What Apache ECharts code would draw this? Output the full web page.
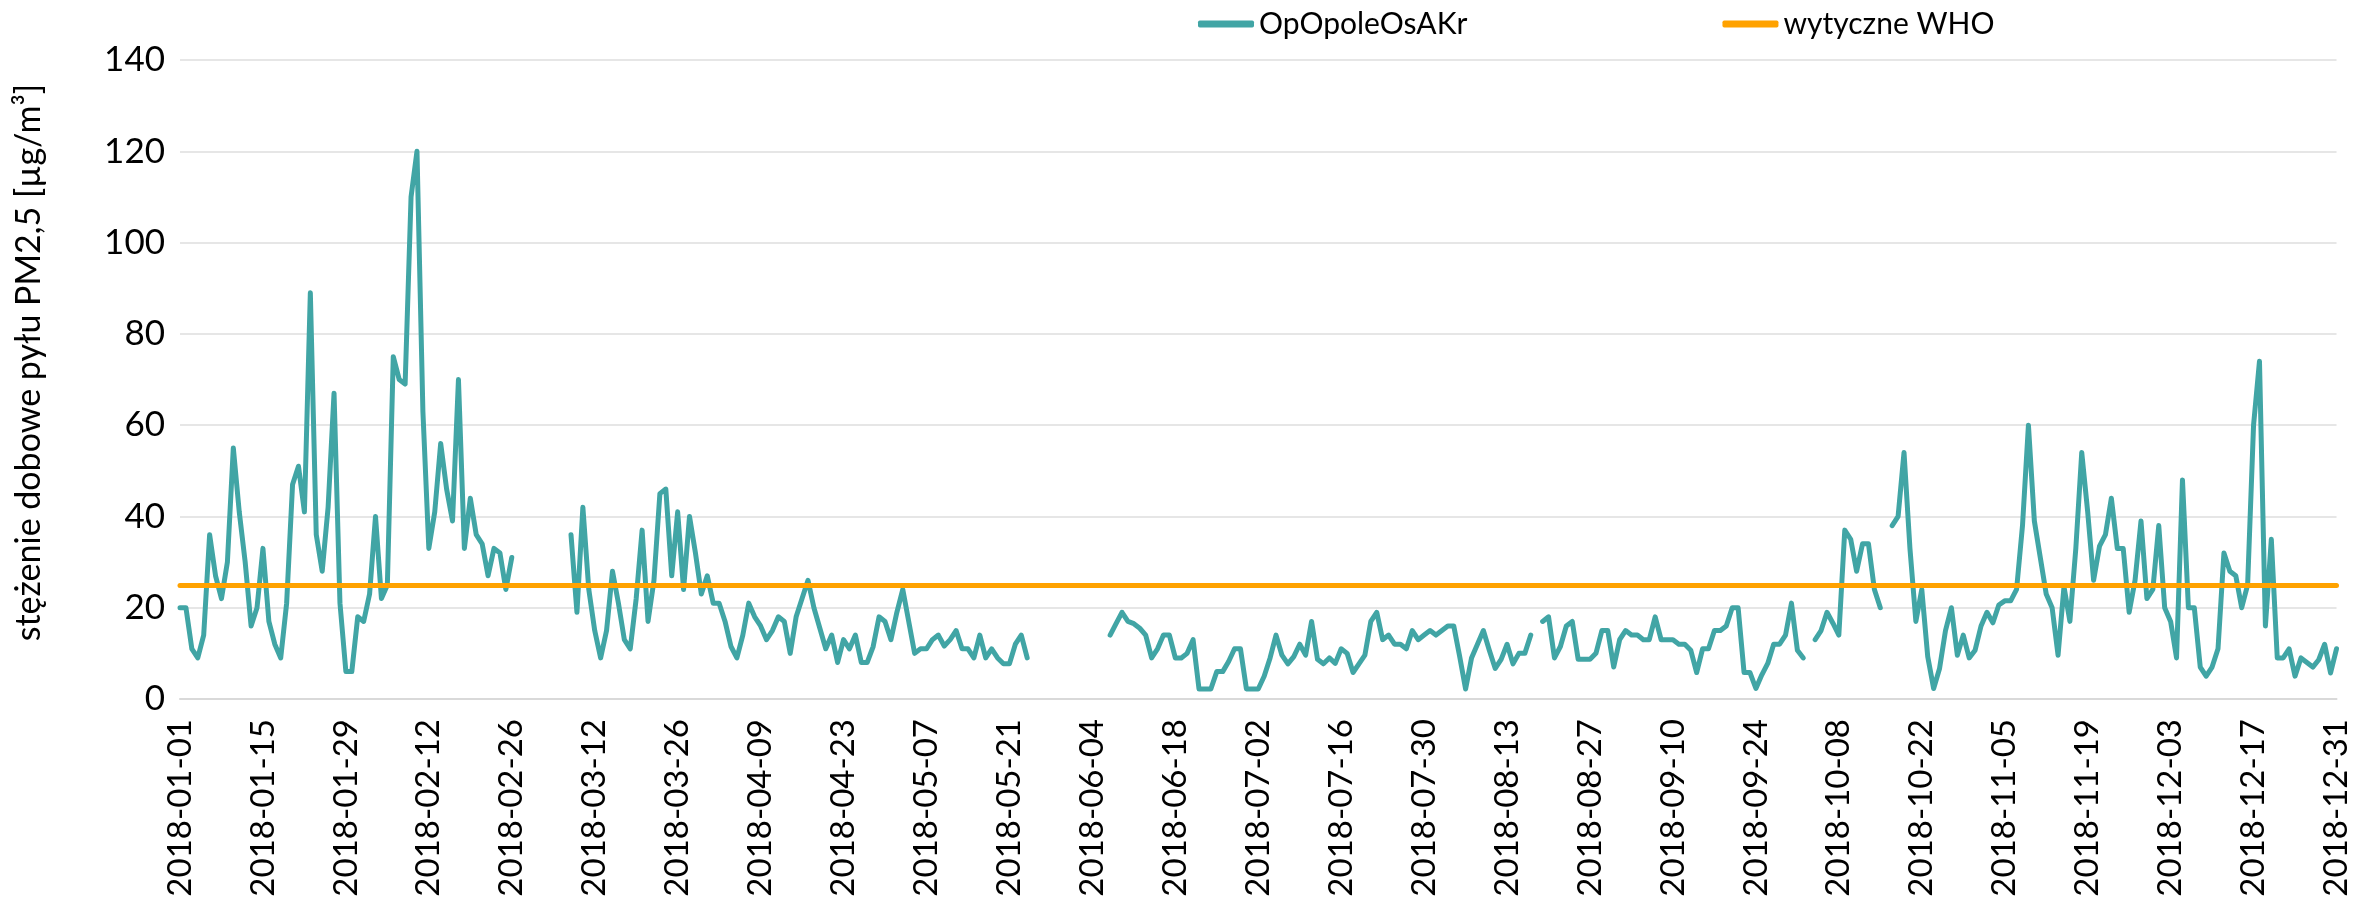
<!DOCTYPE html>
<html>
<head>
<meta charset="utf-8">
<script src="https://cdn.jsdelivr.net/npm/echarts@6/dist/echarts.min.js"></script>
<style>
  html, body {margin: 0; padding: 0; background: #fff;}
  #chart {width: 2353px; height: 900px;}
</style>
</head>
<body>
<div id="chart"></div>
<script>
// dzienne stężenia PM2,5, 2018-01-01 .. 2018-12-31 (null = brak pomiaru)
const pm25 = [
  20, 20, 11, 9, 14, 36, 27, 22, 30, 55,
  41, 30, 16, 20, 33, 17, 12, 9, 21, 47,
  51, 41, 89, 36, 28, 42, 67, 21, 6, 6,
  18, 17, 23, 40, 22, 25, 75, 70, 69, 110,
  120, 63, 33, 41, 56, 46, 39, 70, 33, 44,
  36, 34, 27, 33, 32, 24, 31, null, null, null,
  null, null, null, null, null, null, 36, 19, 42, 24,
  15, 9, 15, 28, 21, 13, 11, 22, 37, 17,
  26, 45, 46, 27, 41, 24, 40, 32, 23, 27,
  21, 21, 17, 11.5, 9, 14, 21, 18, 16, 13,
  15, 18, 17, 10, 18, 22, 26, 20, 15.5, 11,
  14, 8, 13, 11, 14, 8, 8, 11.5, 18, 17,
  13, 19, 24, 17, 10, 11, 11, 13, 14, 11.6,
  13, 15, 11, 11, 9, 14, 9, 11, 9, 7.7,
  7.7, 12, 14, 9, null, null, null, null, null, null,
  null, null, null, null, null, null, null, 14, 16.5, 19,
  17, 16.5, 15.5, 14, 9, 11, 14, 14, 9, 9,
  10, 13, 2.2, 2.2, 2.2, 6, 6, 8.2, 11, 11,
  2.2, 2.2, 2.2, 5, 9, 14, 9.6, 7.7, 9.3, 12,
  9.6, 17, 8.7, 7.7, 9, 7.8, 11, 10, 5.8, 7.7,
  9.6, 17, 19, 13, 14, 12, 12, 11, 15, 13,
  14, 15, 14, 15, 16, 16, 9.3, 2.2, 9, 12,
  15, 10.7, 6.7, 8.7, 12, 7.7, 10, 10, 14, null,
  17, 18, 9, 11.5, 16, 17, 8.7, 8.7, 8.7, 10,
  15, 15, 7, 13, 15, 14, 14, 13, 13, 18,
  13, 13, 13, 12, 12, 10.7, 5.8, 11, 11, 15,
  15, 16, 20, 20, 5.8, 5.8, 2.3, 5.3, 7.8, 12,
  12, 14, 21, 10.7, 9, null, 13, 15, 19, 16.6,
  14, 37, 35, 28, 34, 34, 24, 20, null, 38,
  40, 54, 33, 17, 24, 9.3, 2.3, 6.7, 15, 20,
  9.6, 14, 9, 10.7, 16, 19, 16.7, 20.6, 21.5, 21.5,
  24, 38, 60, 39, 31, 23, 20, 9.6, 24.6, 17,
  33, 54, 41, 26, 33.5, 36, 44, 33, 33, 19,
  26, 39, 22, 24, 38, 20, 17, 9, 48, 20,
  20, 7, 5, 7, 11, 32, 28, 27, 20, 25,
  60, 74, 16, 35, 9, 9, 11, 5, 9, 8,
  7, 8.6, 12, 5.7, 11
];
const whoLimit = 25;
const seriesNames = ['OpOpoleOsAKr', 'wytyczne WHO'];
const yTicks = {min: 0, max: 140, interval: 20};

// kolejne dni roku 2018
const days = [];
for (let i = 0; i < pm25.length; i++) {
    const d = new Date(Date.UTC(2018, 0, 1 + i));
    days.push(d.toISOString().slice(0, 10));
}

const font = 'Lato, "Noto Sans", sans-serif';
const option = {
    animation: false,
    textStyle: {fontFamily: font},
    legend: {
        data: seriesNames,
        left: 1198, top: 9,
        padding: 0,
        icon: 'roundRect',
        itemWidth: 56, itemHeight: 7, itemGap: 255,
        textStyle: {fontSize: 30, color: '#000', fontFamily: font}
    },
    grid: {left: 180, right: 16, top: 60, bottom: 201},
    xAxis: {
        type: 'category',
        boundaryGap: false,
        data: days,
        axisLine: {lineStyle: {color: '#D9D9D9', width: 2}},
        axisTick: {show: false},
        axisLabel: {interval: 13, rotate: 90, margin: 20, fontSize: 33, color: '#000', fontFamily: font},
        splitLine: {show: false}
    },
    yAxis: {
        type: 'value',
        min: yTicks.min, max: yTicks.max, interval: yTicks.interval,
        name: 'stężenie dobowe pyłu PM2,5 [µg/m³]',
        nameLocation: 'middle', nameRotate: 90, nameGap: 134,
        nameTextStyle: {fontSize: 34, color: '#000', fontFamily: font, padding: [0, 0, 0, 34]},
        axisLine: {show: false},
        axisTick: {show: false},
        axisLabel: {margin: 15, fontSize: 35, color: '#000', fontFamily: font},
        splitLine: {lineStyle: {color: '#E6E6E6', width: 2}}
    },
    series: [
        {
            name: seriesNames[0],
            type: 'line',
            data: pm25,
            symbol: 'none',
            connectNulls: false,
            itemStyle: {color: '#41A5A5'},
            lineStyle: {color: '#41A5A5', width: 5, cap: 'round', join: 'round'},
            z: 2
        },
        {
            name: seriesNames[1],
            type: 'line',
            data: [],
            symbol: 'none',
            itemStyle: {color: '#FFA200'},
            lineStyle: {color: '#FFA200', width: 5},
            z: 3,
            markLine: {
                silent: true,
                symbol: ['none', 'none'],
                label: {show: false},
                lineStyle: {color: '#FFA200', width: 5, type: 'solid', cap: 'round'},
                data: [{yAxis: whoLimit}]
            }
        }
    ]
};
const myChart = echarts.init(document.getElementById('chart'));
myChart.setOption(option);
</script>
</body>
</html>
